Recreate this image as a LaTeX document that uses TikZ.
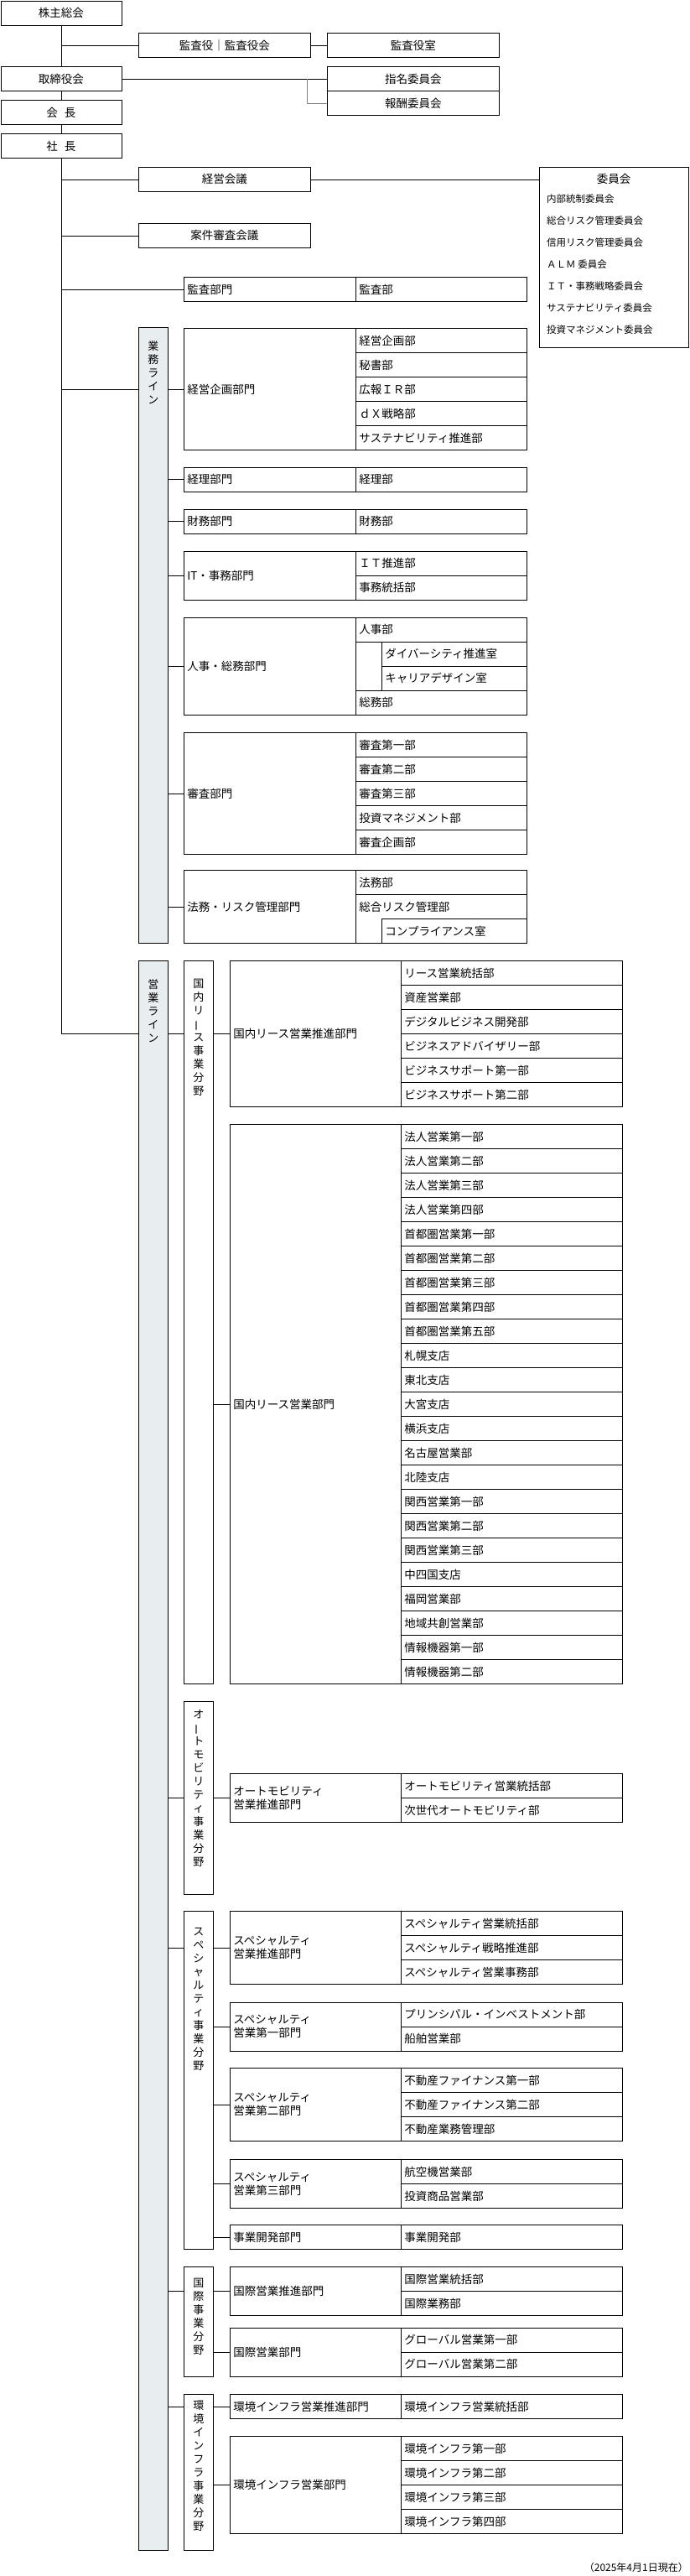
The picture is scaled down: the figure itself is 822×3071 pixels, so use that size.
\documentclass[tikz,border=0pt]{standalone}
\usepackage{fontspec}
\setmainfont{Noto Sans CJK JP}
\usetikzlibrary{positioning,calc}

\definecolor{barfill}{HTML}{E8EDF0}
\newcommand\vl{\rotatebox[origin=c]{90}{ー}}

\tikzset{
  cell/.style={draw, line width=0.8pt, anchor=north west, inner xsep=4pt, inner ysep=0pt,
               align=left, font=\fontsize{13.5}{16}\selectfont},
  topbox/.style={draw, line width=0.8pt, anchor=north west, inner sep=0pt, minimum height=29pt,
               font=\fontsize{13.5}{16}\selectfont},
  sidebar/.style={draw, line width=0.8pt, anchor=north west, inner sep=0pt, minimum width=35pt},
  vtext/.style={anchor=north, align=center, inner sep=0pt, font=\fontsize{13}{16}\selectfont},
  link/.style={line width=0.8pt},
}

% name, x, left width, right width, top, rows, label, items
\newcommand\orgunit[8]{%
  \pgfmathsetmacro\lw{#3-8}\pgfmathsetmacro\rw{#4-8}\pgfmathsetmacro\hh{#6*29}
  \node[cell, minimum width=#3pt, minimum height=\hh pt, text width=\lw pt] (#1) at (#2,#5) {#7};
  \foreach \t [count=\i] in {#8}
    \node[cell, minimum width=#4pt, minimum height=29pt, text width=\rw pt]
      (#1-\i) at ({#2+#3},{#5+(\i-1)*29}) {\t};
}

\begin{document}
\begin{tikzpicture}[x=1pt,y=-1pt]
\useasboundingbox (0,0) rectangle (822,3071);

% top of the company
\node[topbox, minimum width=144pt] (shareholders) at (0.5,0.5) {株主総会};
\node[topbox, minimum width=205pt] (auditors) at (165,39) {監査役｜監査役会};
\node[topbox, minimum width=205pt] (auditoffice) at (390,39) {監査役室};
\node[topbox, minimum width=144pt] (board) at (0.5,79) {取締役会};
\node[topbox, minimum width=205pt] (nomination) at (390,79) {指名委員会};
\node[topbox, minimum width=205pt] (compensation) at (390,108) {報酬委員会};
\node[topbox, minimum width=144pt] (chairman) at (0.5,119) {会\hspace{0.6em}長};
\node[topbox, minimum width=144pt] (president) at (0.5,159) {社\hspace{0.6em}長};
\node[topbox, minimum width=205pt] (mgmtmeeting) at (165,199) {経営会議};
\node[topbox, minimum width=205pt] (casereview) at (165,266) {案件審査会議};

\node[draw, line width=0.8pt, anchor=north west, minimum width=178pt, minimum height=215pt]
  (committee) at (643,199) {};
\node[font=\fontsize{13.5}{16}\selectfont] (committeetitle) at (732,213) {委員会};
\foreach \t [count=\i] in {内部統制委員会,総合リスク管理委員会,信用リスク管理委員会,ＡＬＭ 委員会,
    ＩＴ・事務戦略委員会,サステナビリティ委員会,投資マネジメント委員会}
  \node[anchor=west, inner sep=0pt, font=\fontsize{11.5}{14}\selectfont] (committee-\i)
    at (652,{237+(\i-1)*26.1}) {\t};

\draw[link] (shareholders.south) -- (board.north);
\draw[link] (board.south) -- (chairman.north);
\draw[link] (chairman.south) -- (president.north);
\draw[link] (shareholders.south |- auditors.west) -- (auditors.west);
\draw[link] (auditors.east) -- (auditoffice.west);
\draw[link] (board.east) -- (nomination.west);
\draw[link, gray] (366,93.5) |- (compensation.west);
\draw[link] (mgmtmeeting.east) -- (committee.west |- mgmtmeeting.east);

% business line
\node[sidebar, fill=barfill, minimum height=734pt] (bizbar) at (165,390) {};
\node[vtext] (bizlabel) at ([yshift=-16pt]bizbar.north) {業\\務\\ラ\\イ\\ン};

\orgunit{audit}{219}{205}{204}{330}{1}{監査部門}{監査部}
\orgunit{plan}{219}{205}{204}{391}{5}{経営企画部門}{経営企画部,秘書部,広報ＩＲ部,ｄＸ戦略部,サステナビリティ推進部}
\orgunit{acct}{219}{205}{204}{556.5}{1}{経理部門}{経理部}
\orgunit{fin}{219}{205}{204}{606.5}{1}{財務部門}{財務部}
\orgunit{it}{219}{205}{204}{656.5}{2}{IT・事務部門}{ＩＴ推進部,事務統括部}
\node[cell, minimum width=205pt, minimum height=116pt, text width=197pt] (hr) at (219,735.5) {人事・総務部門};
\node[cell, minimum width=204pt, minimum height=116pt] (hr-box) at (424,735.5) {};
\node[cell, minimum width=204pt, minimum height=29pt, text width=196pt] (hr-1) at (424,735.5) {人事部};
\node[cell, minimum width=173pt, minimum height=29pt, text width=165pt] (hr-2) at (455,764.5) {ダイバーシティ推進室};
\node[cell, minimum width=173pt, minimum height=29pt, text width=165pt] (hr-3) at (455,793.5) {キャリアデザイン室};
\node[cell, minimum width=204pt, minimum height=29pt, text width=196pt] (hr-4) at (424,822.5) {総務部};
\orgunit{review}{219}{205}{204}{873}{5}{審査部門}{審査第一部,審査第二部,審査第三部,投資マネジメント部,審査企画部}
\node[cell, minimum width=205pt, minimum height=87pt, text width=197pt] (legal) at (219,1037) {法務・リスク管理部門};
\node[cell, minimum width=204pt, minimum height=87pt] (legal-box) at (424,1037) {};
\node[cell, minimum width=204pt, minimum height=29pt, text width=196pt] (legal-1) at (424,1037) {法務部};
\node[cell, minimum width=204pt, minimum height=29pt, text width=196pt, draw=none] (legal-2) at (424,1066) {総合リスク管理部};
\node[cell, minimum width=173pt, minimum height=29pt, text width=165pt] (legal-3) at (455,1095) {コンプライアンス室};

% sales line
\node[sidebar, fill=barfill, minimum height=1895pt] (salesbar) at (165,1145) {};
\node[vtext] (saleslabel) at ([yshift=-22pt]salesbar.north) {営\\業\\ラ\\イ\\ン};

\node[sidebar, minimum height=862pt] (domlease) at (219,1145) {};
\node[vtext] at ([yshift=-22pt]domlease.north) {国\\内\\リ\\\vl\\ス\\事\\業\\分\\野};
\node[sidebar, minimum height=229.5pt] (domauto) at (219,2028) {};
\node[vtext] at ([yshift=-10pt]domauto.north) {オ\\\vl\\ト\\モ\\ビ\\リ\\テ\\ィ\\事\\業\\分\\野};
\node[sidebar, minimum height=403pt] (domsp) at (219,2278) {};
\node[vtext] at ([yshift=-20pt]domsp.north) {ス\\ペ\\シ\\ャ\\ル\\テ\\ィ\\事\\業\\分\\野};
\node[sidebar, minimum height=130.6pt] (domintl) at (219,2702) {};
\node[vtext] at ([yshift=-14pt]domintl.north) {国\\際\\事\\業\\分\\野};
\node[sidebar, minimum height=186pt] (domenv) at (219,2854) {};
\node[vtext] at ([yshift=-8pt]domenv.north) {環\\境\\イ\\ン\\フ\\ラ\\事\\業\\分\\野};

\orgunit{leasepromo}{274}{204}{264}{1145}{6}{国内リース営業推進部門}{リース営業統括部,資産営業部,デジタルビジネス開発部,ビジネスアドバイザリー部,ビジネスサポート第一部,ビジネスサポート第二部}
\orgunit{leasesales}{274}{204}{264}{1340}{23}{国内リース営業部門}{法人営業第一部,法人営業第二部,法人営業第三部,法人営業第四部,首都圏営業第一部,首都圏営業第二部,首都圏営業第三部,首都圏営業第四部,首都圏営業第五部,札幌支店,東北支店,大宮支店,横浜支店,名古屋営業部,北陸支店,関西営業第一部,関西営業第二部,関西営業第三部,中四国支店,福岡営業部,地域共創営業部,情報機器第一部,情報機器第二部}
\orgunit{autopromo}{274}{204}{264}{2114}{2}{オートモビリティ\\営業推進部門}{オートモビリティ営業統括部,次世代オートモビリティ部}
\orgunit{sppromo}{274}{204}{264}{2278}{3}{スペシャルティ\\営業推進部門}{スペシャルティ営業統括部,スペシャルティ戦略推進部,スペシャルティ営業事務部}
\orgunit{spone}{274}{204}{264}{2386.5}{2}{スペシャルティ\\営業第一部門}{プリンシパル・インベストメント部,船舶営業部}
\orgunit{sptwo}{274}{204}{264}{2465}{3}{スペシャルティ\\営業第二部門}{不動産ファイナンス第一部,不動産ファイナンス第二部,不動産業務管理部}
\orgunit{spthree}{274}{204}{264}{2574}{2}{スペシャルティ\\営業第三部門}{航空機営業部,投資商品営業部}
\orgunit{spdev}{274}{204}{264}{2652}{1}{事業開発部門}{事業開発部}
\orgunit{intlpromo}{274}{204}{264}{2702}{2}{国際営業推進部門}{国際営業統括部,国際業務部}
\orgunit{intlsales}{274}{204}{264}{2774.5}{2}{国際営業部門}{グローバル営業第一部,グローバル営業第二部}
\orgunit{envpromo}{274}{204}{264}{2854}{1}{環境インフラ営業推進部門}{環境インフラ営業統括部}
\orgunit{envsales}{274}{204}{264}{2904}{4}{環境インフラ営業部門}{環境インフラ第一部,環境インフラ第二部,環境インフラ第三部,環境インフラ第四部}

% connectors
\draw[link] (president.south) -- (president.south |- leasepromo.west) coordinate (trunkend);
\foreach \u in {mgmtmeeting,casereview,audit}
  \draw[link] (president.south |- \u.west) -- (\u.west);
\draw[link] (president.south |- plan.west) -- (bizbar.west |- plan.west);
\foreach \u in {plan,acct,fin,it,hr,review,legal}
  \draw[link] (bizbar.east |- \u.west) -- (\u.west);
\draw[link] (trunkend) -- (salesbar.west |- trunkend);
\foreach \d/\u in {domlease/leasepromo,domauto/autopromo,domsp/sppromo,domintl/intlpromo,domenv/envpromo}
  \draw[link] (salesbar.east |- \u.west) -- (\d.west |- \u.west);
\foreach \d/\u in {domlease/leasepromo,domlease/leasesales,domauto/autopromo,domsp/sppromo,domsp/spone,
    domsp/sptwo,domsp/spthree,domsp/spdev,domintl/intlpromo,domintl/intlsales,domenv/envpromo,domenv/envsales}
  \draw[link] (\d.east |- \u.west) -- (\u.west);

\node[anchor=east, inner sep=0pt, font=\fontsize{12}{14}\selectfont] (asof) at (821,3061) {（2025年4月1日現在）};
\end{tikzpicture}
\end{document}
